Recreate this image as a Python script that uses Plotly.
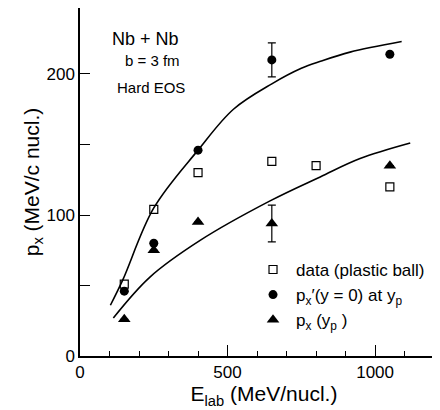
import plotly.graph_objects as go

# data (plastic ball)
data_E = [150, 250, 400, 650, 800, 1050]
data_px = [51, 104, 130, 138, 135, 120]

# p_x'(y=0) at y_p
circ_E = [150, 250, 400, 650, 1050]
circ_px = [46, 80, 146, 210, 214]
circ_err = [0, 0, 0, 12, 0]

# p_x(y_p)
tri_E = [150, 250, 400, 650, 1050]
tri_px = [26, 75, 95, 94, 135]
tri_err = [0, 0, 0, 13, 0]

# curves (theory)
up_E = [103, 145, 250, 400, 520, 650, 750, 815, 915, 1090]
up_px = [36, 54, 105, 146, 175, 193, 204, 209, 215.5, 223]
lo_E = [113, 237, 407, 644, 814, 949, 1119]
lo_px = [27, 56, 82, 110, 127, 140, 151]

FONT = "Liberation Sans, Arial, sans-serif"

fig = go.Figure()
fig.add_trace(go.Scatter(x=up_E, y=up_px, mode="lines", line=dict(color="black", width=1.6, shape="spline", smoothing=1),
                         showlegend=False, hoverinfo="skip"))
fig.add_trace(go.Scatter(x=lo_E, y=lo_px, mode="lines", line=dict(color="black", width=1.6, shape="spline", smoothing=1),
                         showlegend=False, hoverinfo="skip"))
fig.add_trace(go.Scatter(x=data_E, y=data_px, mode="markers", name="data (plastic ball)",
                         marker=dict(symbol="square-open", size=8, color="black", line=dict(width=1.2))))
fig.add_trace(go.Scatter(x=circ_E, y=circ_px, mode="markers", name="p<sub>x</sub>′(y = 0) at y<sub>p</sub>",
                         marker=dict(symbol="circle", size=9, color="black"),
                         error_y=dict(type="data", array=circ_err, color="black", thickness=1.2, width=4)))
fig.add_trace(go.Scatter(x=tri_E, y=tri_px, mode="markers", name="p<sub>x</sub> (y<sub>p</sub> )",
                         marker=dict(symbol="triangle-up", size=11, color="black"),
                         error_y=dict(type="data", array=tri_err, color="black", thickness=1.2, width=4)))

fig.add_annotation(x=0.082, y=0.912, xref="paper", yref="paper", text="Nb + Nb", showarrow=False,
                   xanchor="left", yanchor="middle", font=dict(family=FONT, size=18, color="black"))
fig.add_annotation(x=0.117, y=0.85, xref="paper", yref="paper", text="b = 3 fm", showarrow=False,
                   xanchor="left", yanchor="middle", font=dict(family=FONT, size=15, color="black"))
fig.add_annotation(x=0.095, y=0.772, xref="paper", yref="paper", text="Hard EOS", showarrow=False,
                   xanchor="left", yanchor="middle", font=dict(family=FONT, size=15, color="black"))

fig.update_layout(
    width=440, height=410,
    margin=dict(l=72, r=0, t=0, b=62, autoexpand=False),
    paper_bgcolor="white", plot_bgcolor="white",
    font=dict(family=FONT, color="black", size=17),
    legend=dict(x=0.462, y=0.299, xanchor="left", yanchor="top", bgcolor="rgba(0,0,0,0)",
                font=dict(family=FONT, size=17, color="black"), itemwidth=36, tracegroupgap=0),
    xaxis=dict(range=[0, 1247], showgrid=False, zeroline=False, showline=True, linecolor="black", linewidth=1.5,
               mirror=True, ticks="inside", ticklen=11, tickwidth=1.3, tickcolor="black", dtick=500, tick0=0,
               tickfont=dict(family=FONT, size=17), automargin=False,
               minor=dict(ticks="inside", dtick=100, ticklen=5, tickwidth=1.2, tickcolor="black"),
               title=dict(text="E<sub>lab</sub> (MeV/nucl.)", font=dict(family=FONT, size=21), standoff=0)),
    yaxis=dict(range=[0, 246.8], showgrid=False, zeroline=False, showline=True, linecolor="black", linewidth=1.5,
               ticks="inside", ticklen=10, tickwidth=1.3, tickcolor="black", dtick=100, tick0=0,
               tickfont=dict(family=FONT, size=17), automargin=False,
               minor=dict(ticks="inside", dtick=50, ticklen=10, tickwidth=1.2, tickcolor="black"),
               title=dict(text="p<sub>x</sub> (MeV/c nucl.)", font=dict(family=FONT, size=21), standoff=0)),
)

fig.write_html("out.html")
